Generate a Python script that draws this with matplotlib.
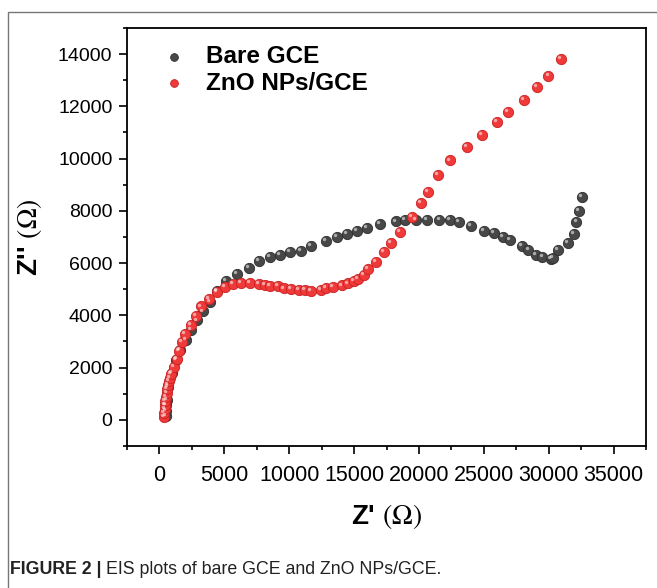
#!/usr/bin/env python3

import matplotlib
matplotlib.use('Agg')

import numpy as np
import matplotlib.pyplot as plt
from matplotlib.transforms import offset_copy
from matplotlib.patches import Rectangle
from matplotlib.ticker import MultipleLocator

# -----------------------------
# Data
# -----------------------------
series_labels = ['Bare GCE', 'ZnO NPs/GCE']

bare_x = [470, 500, 530, 550, 680, 940, 1270, 1580, 2040, 2400, 2860, 3320, 3885,
          4450, 5115, 5985, 6870, 7650, 8500, 9300, 10040, 10880, 11680, 12850,
          13670, 14450, 15210, 16020, 16960, 18220, 18950, 19800, 20650, 21580,
          22400, 23120, 24010, 25040, 25770, 26480, 27030, 27960, 28440, 29010,
          29520, 30150, 30360, 30750, 31490, 31950, 32140, 32320, 32560]
bare_y = [150, 350, 560, 766, 1276, 1790, 2300, 2680, 3065, 3450, 3805, 4150, 4530,
          4940, 5300, 5590, 5815, 6100, 6225, 6325, 6415, 6460, 6670, 6840,
          6990, 7125, 7235, 7335, 7490, 7595, 7635, 7635, 7645, 7645,
          7640, 7560, 7430, 7235, 7150, 7010, 6870, 6650, 6510, 6305,
          6220, 6170, 6185, 6490, 6785, 7125, 7590, 7980, 8530]

zno_x = [346, 370, 400, 423, 446, 500, 554, 600, 654, 730, 808, 860, 1115, 1320,
         1475, 1705, 1985, 2450, 2780, 3190, 3830, 4400, 5040, 5680, 6320, 6960,
         7680, 8150, 8500, 9150, 9600, 10170, 10750, 11190, 11680, 12420, 12860,
         13370, 14040, 14550, 14960, 15320, 15780, 16060, 16700, 17290, 17880,
         18520, 19450, 20120, 20700, 21500, 22420, 23730, 24830, 26010, 26830,
         28090, 29130, 29980, 30980]
zno_y = [127, 280, 420, 563, 716, 870, 1023, 1176, 1330, 1483, 1620, 1750, 2020, 2325,
         2620, 2965, 3270, 3640, 3985, 4340, 4635, 4905, 5080, 5190, 5235, 5255,
         5210, 5160, 5115, 5110, 5030, 5005, 4955, 4955, 4940, 4980, 5045,
         5095, 5145, 5220, 5310, 5400, 5555, 5770, 6050, 6435, 6755,
         7200, 7750, 8310, 8730, 9370, 9930, 10460, 10900, 11400, 11780,
         12230, 12750, 13180, 13800]

colors = ['#484848', '#f03a3a']
edges = ['#2e2e2e', '#c82020']

plt.rcParams['font.family'] = ['Liberation Sans', 'DejaVu Sans']
plt.rcParams['mathtext.fontset'] = 'stix'

# -----------------------------
# Figure
# -----------------------------
fig = plt.figure(figsize=(6.57, 5.88), dpi=100)
ax = fig.add_axes([0.1933, 0.2415, 0.790, 0.7109])

# outer frame of the journal figure panel
fig.patches.append(Rectangle((8 / 657, -0.1), 1.2, 1 - 12 / 588 + 0.1,
                             transform=fig.transFigure, fill=False,
                             edgecolor='#777777', linewidth=1.0))

for xs, ys, c, ec, lab in zip([bare_x, zno_x], [bare_y, zno_y], colors, edges, series_labels):
    ax.scatter(xs, ys, s=55, color=c, edgecolors=ec, linewidths=0.6, label=lab, zorder=3)
    # little specular highlight to mimic the shaded spheres
    hl = offset_copy(ax.transData, fig=fig, x=-1.4, y=1.4, units='points')
    ax.scatter(xs, ys, s=6, color='white', alpha=0.55, linewidths=0,
               transform=hl, zorder=4)

ax.set_xlim(-2500, 37500)
ax.set_ylim(-1000, 15000)
ax.xaxis.set_major_locator(MultipleLocator(5000))
ax.xaxis.set_minor_locator(MultipleLocator(2500))
ax.yaxis.set_major_locator(MultipleLocator(2000))
ax.yaxis.set_minor_locator(MultipleLocator(1000))

ax.tick_params(which='both', direction='out', top=False, right=False, width=1.2)
ax.tick_params(which='major', length=5.5)
ax.tick_params(which='minor', length=3)
ax.tick_params(axis='x', labelsize=15.5, pad=8)
ax.tick_params(axis='y', labelsize=14, pad=5)
for sp in ax.spines.values():
    sp.set_linewidth(1.3)

ax.set_xlabel(r"Z' $(\Omega)$", fontsize=20, fontweight='bold', labelpad=12)
ax.set_ylabel(r"Z'' $(\Omega)$", fontsize=20, fontweight='bold', labelpad=10)

leg = ax.legend(loc='upper left', bbox_to_anchor=(0.01, 1.0), frameon=False,
                prop={'size': 17.5, 'weight': 'bold'}, handletextpad=0.35,
                labelspacing=0.15, markerscale=0.75, borderaxespad=0.3)

# -----------------------------
# Caption
# -----------------------------
cap = fig.text(10 / 657, 1 - 570 / 588, 'FIGURE 2 |', fontsize=12.8, fontweight='bold',
               va='center', ha='left', color='#222222')
ax.annotate('EIS plots of bare GCE and ZnO NPs/GCE.', xy=(1, 0.5), xycoords=cap,
            xytext=(3, 0), textcoords='offset points', fontsize=12.8,
            va='center', ha='left', color='#222222', annotation_clip=False)

fig.savefig('out.png', dpi=100)
